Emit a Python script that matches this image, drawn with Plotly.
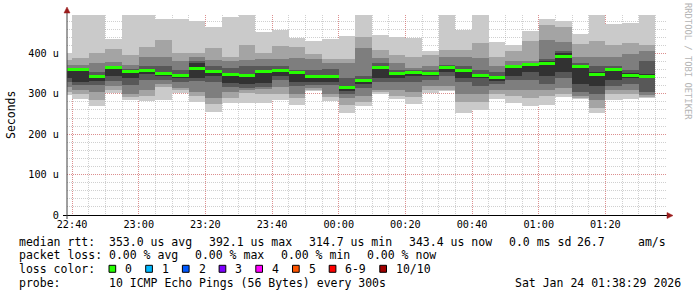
import plotly.graph_objects as go
import pandas as pd

# ---------------- data ----------------
start_times = pd.date_range("2026-01-23 22:35:00", periods=36, freq="5min")

ping01 = [298, 287, 269, 303, 285, 281, 285, 302, 279, 254, 277, 278, 278, 285, 273, 308, 281, 252,
          269, 300, 288, 275, 303, 308, 252, 259, 287, 278, 270, 272, 292, 287, 252, 285, 287, 289]
ping02 = [305, 300, 285, 310, 292, 295, 318, 310, 295, 275, 290, 302, 300, 300, 290, 310, 292, 272,
          280, 305, 295, 292, 310, 310, 280, 280, 300, 295, 290, 295, 300, 290, 265, 300, 300, 292]
ping03 = [318, 310, 305, 320, 300, 310, 325, 315, 305, 290, 305, 310, 312, 318, 300, 315, 300, 290,
          295, 310, 310, 305, 320, 320, 300, 300, 310, 310, 310, 310, 315, 295, 285, 310, 310, 297]
ping04 = [328, 322, 322, 332, 322, 335, 335, 330, 332, 330, 318, 315, 318, 333, 320, 322, 322, 300,
          315, 330, 330, 330, 335, 345, 330, 320, 325, 335, 335, 325, 340, 305, 300, 320, 325, 305]
ping05 = [338, 330, 332, 345, 340, 348, 343, 338, 338, 345, 326, 325, 327, 343, 330, 330, 330, 308,
          323, 340, 338, 345, 345, 355, 340, 340, 332, 345, 355, 345, 354, 325, 320, 335, 340, 340]
ping06 = [357, 362, 345, 366, 355, 358, 352, 348, 375, 360, 350, 347, 356, 358, 353, 346, 345, 318,
          335, 366, 350, 354, 352, 366, 358, 347, 342, 369, 374, 380, 400, 370, 355, 365, 352, 350]
ping07 = [365, 365, 355, 370, 362, 370, 368, 360, 380, 368, 365, 370, 370, 368, 360, 360, 362, 340,
          345, 375, 360, 358, 358, 372, 370, 360, 355, 372, 376, 385, 405, 375, 370, 370, 360, 380]
ping08 = [372, 372, 375, 378, 372, 392, 392, 380, 392, 384, 380, 384, 385, 386, 388, 385, 375, 375,
          413, 389, 375, 365, 370, 392, 392, 388, 370, 380, 380, 432, 428, 392, 390, 390, 398, 405]
ping09 = [384, 388, 400, 410, 396, 417, 433, 400, 400, 413, 392, 421, 401, 418, 417, 398, 385, 385,
          441, 408, 396, 392, 396, 408, 408, 425, 390, 405, 430, 470, 465, 424, 430, 420, 425, 420]
ping10 = [400, 520, 520, 435, 520, 520, 484, 484, 479, 465, 491, 520, 453, 458, 439, 431, 436, 443,
          520, 446, 441, 439, 406, 520, 458, 520, 429, 421, 455, 485, 479, 449, 520, 473, 476, 520]
median_rtt = [359, 361, 344, 364, 354, 357, 349, 345, 363, 356, 347, 345, 354, 357, 353, 344, 344, 315,
              333, 366, 349, 353, 351, 365, 357, 346, 340, 368, 373, 376, 392, 368, 347, 361, 346, 343]

y_tickvals = [0, 100, 200, 300, 400]
y_ticktext = ["0", "100 u", "200 u", "300 u", "400 u"]
x_tickvals = pd.date_range("2026-01-23 22:40:00", "2026-01-24 01:20:00", freq="20min")

loss_labels = ["0", "1", "2", "3", "4", "5", "6-9", "10/10"]
loss_colors = ["#26ff00", "#00b8ff", "#0059ff", "#7e00ff", "#ff00ff", "#ff5500", "#ff0000", "#a10000"]

# ---------------- layout constants ----------------
W, H = 697, 297
L, R, T, B = 67, 30, 15, 82
PW, PH = W - L - R, H - T - B
YMAX = 495
STEP_MS = 5 * 60 * 1000
MONO = "DejaVu Sans Mono"
CHAR_W = 6.95


def px(x):
    return (x - L) / PW


def py(y):
    return (T + PH - y) / PH


fig = go.Figure()

lows = [ping01, ping02, ping03, ping04, ping05]
highs = [ping10, ping09, ping08, ping07, ping06]
shades = ["#cacaca", "#a4a4a4", "#7e7e7e", "#585858", "#323232"]
for lo, hi, col in zip(lows, highs, shades):
    fig.add_trace(go.Bar(
        x=start_times, base=lo, y=[h - l for h, l in zip(hi, lo)],
        width=STEP_MS, offset=0, marker=dict(color=col, line=dict(width=0)),
        hoverinfo="skip", showlegend=False))

band = 1.5 * YMAX / PH
fig.add_trace(go.Bar(
    x=start_times, base=[m - band for m in median_rtt], y=[2 * band] * len(median_rtt),
    width=STEP_MS, offset=0, marker=dict(color=loss_colors[0], line=dict(width=0)),
    showlegend=False))

fig.update_layout(
    width=W, height=H, autosize=False,
    margin=dict(l=L, r=R, t=T, b=B, pad=0),
    paper_bgcolor="white", plot_bgcolor="white",
    barmode="overlay", bargap=0, showlegend=False,
    font=dict(family=MONO, size=10.2, color="black"),
)

fig.update_xaxes(
    type="date",
    range=["2026-01-23 22:38:29", "2026-01-24 01:38:29"],
    tickvals=x_tickvals, tickformat="%H:%M",
    showgrid=True, gridcolor="rgba(230,90,90,0.55)", griddash="1px,1px", gridwidth=1,
    minor=dict(dtick=STEP_MS, tick0="2026-01-23 22:40:00", showgrid=True,
               gridcolor="rgba(150,150,150,0.45)", griddash="1px,1px", gridwidth=1),
    showline=False, zeroline=False, ticks="", ticklabelstandoff=2,
    tickfont=dict(family=MONO, size=10.2, color="black"),
    layer="above traces", fixedrange=True,
)
fig.update_yaxes(
    range=[0, YMAX],
    tickvals=y_tickvals, ticktext=y_ticktext,
    showgrid=True, gridcolor="rgba(230,90,90,0.55)", griddash="1px,1px", gridwidth=1,
    minor=dict(dtick=20, showgrid=True,
               gridcolor="rgba(150,150,150,0.45)", griddash="1px,1px", gridwidth=1),
    showline=False, zeroline=False, ticks="", ticklabelstandoff=7,
    tickfont=dict(family=MONO, size=10.2, color="black"),
    layer="above traces", fixedrange=True,
)

# axes lines and arrows
shapes = [
    dict(type="line", xref="paper", yref="paper", x0=px(63), x1=px(668), y0=py(215.5), y1=py(215.5),
         line=dict(color="black", width=1)),
    dict(type="line", xref="paper", yref="paper", x0=px(67), x1=px(67), y0=py(219), y1=py(11),
         line=dict(color="#404040", width=1)),
    dict(type="path", xref="paper", yref="paper",
         path=f"M {px(64)} {py(13)} L {px(67)} {py(7)} L {px(70)} {py(13)} Z",
         fillcolor="#9b1c1c", line=dict(color="#9b1c1c", width=0.5)),
    dict(type="path", xref="paper", yref="paper",
         path=f"M {px(667)} {py(212.5)} L {px(673)} {py(215.5)} L {px(667)} {py(218.5)} Z",
         fillcolor="#9b1c1c", line=dict(color="#9b1c1c", width=0.5)),
]

annotations = []


def text(x, y, s, size=11.5, color="black", anchor="left", angle=0):
    annotations.append(dict(
        xref="paper", yref="paper", x=px(x), y=py(y), text=s.replace(" ", "\u00a0"),
        showarrow=False, xanchor=anchor, yanchor="middle", textangle=angle,
        font=dict(family=MONO, size=size, color=color)))


text(11, 115, "Seconds", anchor="center", angle=-90)
text(688, 61, "RRDTOOL / TOBI OETIKER", size=8.8, color="#b4b4b4", anchor="center", angle=90)

row1 = [(16.5, "median rtt:"), (107.3, "353.0 us avg"), (207.3, "392.1 us max"),
        (307.3, "314.7 us min"), (407.3, "343.4 us now"), (507.3, "0.0 ms sd"),
        (575, "26.7"), (636, "am/s")]
row2 = [(16.5, "packet loss:"), (107.3, "0.00 % avg"), (193.3, "0.00 % max"),
        (279, "0.00 % min"), (365, "0.00 % now")]
for x, s in row1:
    text(x, 241.5, s)
for x, s in row2:
    text(x, 255.3, s)
text(16.5, 269, "loss color:")
bx = 109
for lab, col in zip(loss_labels, loss_colors):
    shapes.append(dict(type="rect", xref="paper", yref="paper",
                       x0=px(bx), x1=px(bx + 6.7), y0=py(272.3), y1=py(265.3),
                       fillcolor=col, line=dict(color="black", width=1)))
    text(bx + 14.3, 269, lab)
    bx += 36.7 + (len(lab) - 1) * CHAR_W
text(16.5, 283, "probe:")
text(107.3, 283, "10 ICMP Echo Pings (56 Bytes) every 300s")
text(513.3, 283, "Sat Jan 24 01:38:29 2026")

fig.update_layout(shapes=shapes, annotations=annotations)
fig.write_html("out.html")
